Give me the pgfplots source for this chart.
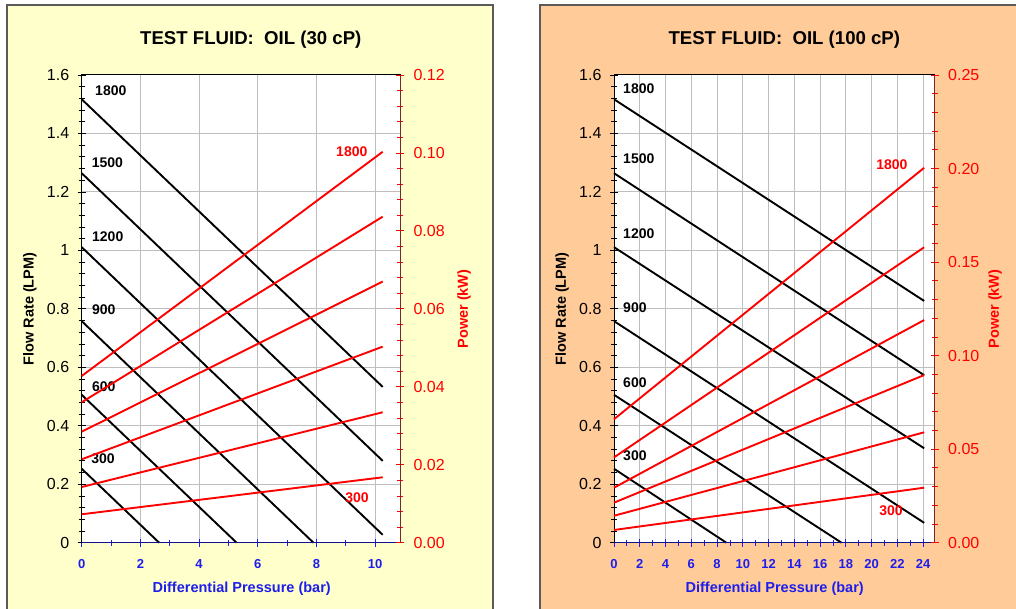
\documentclass[border=0pt]{standalone}
\usepackage{fontspec}
\setmainfont{Liberation Sans}
\usepackage{pgfplots}
\pgfplotsset{compat=1.18}
\definecolor{bgyellow}{RGB}{255,255,204}
\definecolor{bgpeach}{RGB}{255,204,153}
\definecolor{bordergray}{RGB}{90,90,90}
\definecolor{gridgray}{RGB}{190,190,190}
\definecolor{xblue}{RGB}{30,30,235}
\definecolor{axred}{RGB}{120,40,40}
\definecolor{lnred}{RGB}{255,0,0}
\tikzset{
  blk/.style={black, line width=1.9pt},
  rd/.style={lnred, line width=1.9pt},
  spd/.style={font=\bfseries\fontsize{14}{16}\selectfont, anchor=west, inner sep=0pt},
}
\pgfplotsset{
  base/.style={
    scale only axis, width=318.3pt, height=467.7pt,
    ymin=0, ymax=1.6, clip=false,
    /pgf/number format/assume math mode=true,
    tick align=center, major tick length=8pt, minor tick length=6pt,
  },
  flowax/.style={
    base,
    ytick={0,0.2,0.4,0.6,0.8,1,1.2,1.4,1.6},
    minor x tick num=1, minor y tick num=4,
    grid=major, major grid style={gridgray, line width=1pt},
    tick pos=left,
    axis line style={black, line width=1pt},
    tick style={black, line width=0.8pt},
    every x tick/.style={xblue},
    x tick label style={font=\bfseries\fontsize{13}{15}\selectfont, text=xblue, yshift=-9pt},
    y tick label style={font=\fontsize{16}{18}\selectfont, xshift=-5pt},
    axis background/.style={fill=white},
  },
  powax/.style={
    base,
    axis x line=none, axis y line*=right,
    y axis line style={axred, line width=1pt, -},
    minor y tick num=4,
    tick style={lnred, line width=0.8pt},
    yticklabel style={text=lnred, font=\fontsize{16}{18}\selectfont, xshift=6pt,
      /pgf/number format/.cd, fixed, fixed zerofill, precision=2},
  },
}
\begin{document}
\begin{tikzpicture}
\useasboundingbox (0,0) rectangle (1016pt,609pt);
\clip (0,0) rectangle (1016pt,609pt);
% panels
\draw[fill=bgyellow, draw=bordergray, line width=1.2pt] (7pt,604pt) rectangle (493pt,-10pt);
\draw[fill=bgpeach, draw=bordergray, line width=1.2pt] (540pt,604pt) rectangle (1040pt,-10pt);

% ---------- LEFT: 30 cP ----------
\begin{axis}[flowax, at={(81.7pt,66.3pt)}, anchor=south west,
  xmin=0, xmax=10.85, xtick={0,2,4,6,8,10}]
\addplot[blk] coordinates {(0,1.517) (10.26,0.533)};
\addplot[blk] coordinates {(0,1.264) (10.26,0.280)};
\addplot[blk] coordinates {(0,1.011) (10.26,0.027)};
\addplot[blk] coordinates {(0,0.758) (7.90,0)};
\addplot[blk] coordinates {(0,0.506) (5.28,0)};
\addplot[blk] coordinates {(0,0.253) (2.64,0)};
\draw[xblue!60!black, line width=1pt] (rel axis cs:0,0) -- (rel axis cs:1,0);
\node[spd] at (axis cs:0.455,1.545) {1800};
\node[spd] at (axis cs:0.34,1.301) {1500};
\node[spd] at (axis cs:0.35,1.047) {1200};
\node[spd] at (axis cs:0.35,0.796) {900};
\node[spd] at (axis cs:0.35,0.534) {600};
\node[spd] at (axis cs:0.32,0.286) {300};
\end{axis}
\begin{axis}[powax, at={(81.7pt,66.3pt)}, anchor=south west,
  xmin=0, xmax=10.85, ymax=0.12,
  ytick={0,0.02,0.04,0.06,0.08,0.1,0.12}]
\addplot[rd] coordinates {(0,0.04277) (10.26,0.1003)};
\addplot[rd] coordinates {(0,0.03603) (10.26,0.08365)};
\addplot[rd] coordinates {(0,0.02848) (10.26,0.0670)};
\addplot[rd] coordinates {(0,0.0214) (10.26,0.0503)};
\addplot[rd] coordinates {(0,0.01429) (10.26,0.03346)};
\addplot[rd] coordinates {(0,0.00729) (10.26,0.01678)};
\node[spd, text=lnred] at (axis cs:8.67,0.1003) {1800};
\node[spd, text=lnred] at (axis cs:8.98,0.01155) {300};
\end{axis}
\node[font=\bfseries\fontsize{18.6}{22}\selectfont] at (250.8pt,569pt) {TEST FLUID:\ \ OIL (30 cP)};
\node[rotate=90, font=\bfseries\fontsize{14.5}{17}\selectfont] at (30pt,300pt) {Flow Rate (LPM)};
\node[rotate=90, font=\bfseries\fontsize{14.5}{17}\selectfont, text=lnred] at (464pt,300pt) {Power (kW)};
\node[font=\bfseries\fontsize{14.5}{17}\selectfont, text=xblue] at (241.7pt,20pt) {Differential Pressure (bar)};

% ---------- RIGHT: 100 cP ----------
\begin{axis}[flowax, at={(614pt,66.3pt)}, anchor=south west,
  width=320.7pt, xmin=0, xmax=24.9, xtick={0,2,4,6,8,10,12,14,16,18,20,22,24}]
\addplot[blk] coordinates {(0,1.517) (24.08,0.827)};
\addplot[blk] coordinates {(0,1.264) (24.08,0.573)};
\addplot[blk] coordinates {(0,1.011) (24.08,0.323)};
\addplot[blk] coordinates {(0,0.758) (24.08,0.068)};
\addplot[blk] coordinates {(0,0.506) (17.66,0)};
\addplot[blk] coordinates {(0,0.253) (8.72,0)};
\draw[xblue!60!black, line width=1pt] (rel axis cs:0,0) -- (rel axis cs:1,0);
\node[spd] at (axis cs:0.70,1.552) {1800};
\node[spd] at (axis cs:0.70,1.315) {1500};
\node[spd] at (axis cs:0.70,1.058) {1200};
\node[spd] at (axis cs:0.70,0.803) {900};
\node[spd] at (axis cs:0.70,0.548) {600};
\node[spd] at (axis cs:0.70,0.298) {300};
\end{axis}
\begin{axis}[powax, at={(614pt,66.3pt)}, anchor=south west,
  width=320.7pt, xmin=0, xmax=24.9, ymax=0.25,
  ytick={0,0.05,0.1,0.15,0.2,0.25}]
\addplot[rd] coordinates {(0,0.0660) (24.08,0.2004)};
\addplot[rd] coordinates {(0,0.0456) (24.08,0.1579)};
\addplot[rd] coordinates {(0,0.0294) (24.08,0.1190)};
\addplot[rd] coordinates {(0,0.0214) (24.08,0.0896)};
\addplot[rd] coordinates {(0,0.0144) (24.08,0.0590)};
\addplot[rd] coordinates {(0,0.0068) (24.08,0.0294)};
\node[spd, text=lnred] at (axis cs:20.35,0.2022) {1800};
\node[spd, text=lnred] at (axis cs:20.58,0.0169) {300};
\end{axis}
\node[font=\bfseries\fontsize{18.6}{22}\selectfont] at (784.3pt,569pt) {TEST FLUID:\ \ OIL (100 cP)};
\node[rotate=90, font=\bfseries\fontsize{14.5}{17}\selectfont] at (562pt,300pt) {Flow Rate (LPM)};
\node[rotate=90, font=\bfseries\fontsize{14.5}{17}\selectfont, text=lnred] at (995pt,300pt) {Power (kW)};
\node[font=\bfseries\fontsize{14.5}{17}\selectfont, text=xblue] at (774.7pt,20pt) {Differential Pressure (bar)};
\end{tikzpicture}
\end{document}
